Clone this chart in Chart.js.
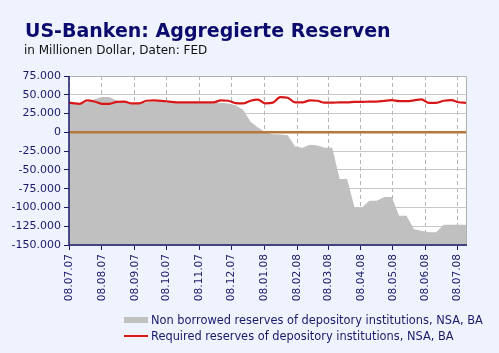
<!DOCTYPE html>
<html>
<head>
<meta charset="utf-8">
<script src="https://cdn.jsdelivr.net/npm/chart.js@4"></script>
<style>
  html, body { margin:0; padding:0; }
  body { width:499px; height:353px; background:#EEF3FD; position:relative; overflow:hidden; font-family:"DejaVu Sans", Verdana, sans-serif; }
  #c { position:absolute; left:0; top:0; }
  .title { position:absolute; left:25px; top:21px; font-size:19px; line-height:19px; font-weight:bold; color:#0B0B6E; white-space:nowrap; }
  .sub { position:absolute; left:24px; top:44px; font-size:12px; line-height:12px; color:#111; white-space:nowrap; }
  .lg { position:absolute; left:151px; font-size:11.4px; line-height:14px; color:#1A1A6A; white-space:nowrap; }
  .sw1 { position:absolute; left:124px; top:317px; width:24px; height:6px; background:#C0C0C0; }
  .sw2 { position:absolute; left:124px; top:335px; width:24px; height:2px; background:#D81818; }
</style>
</head>
<body>
<canvas id="c" width="499" height="353"></canvas>
<div class="title">US-Banken: Aggregierte Reserven</div>
<div class="sub">in Millionen Dollar, Daten: FED</div>
<div class="sw1"></div>
<div class="lg" style="top:313px">Non borrowed reserves of depository institutions, NSA, BA</div>
<div class="sw2"></div>
<div class="lg" style="top:329px">Required reserves of depository institutions, NSA, BA</div>
<script>
const tickLabels = ['08.07.07','08.08.07','08.09.07','08.10.07','08.11.07','08.12.07','08.01.08','08.02.08','08.03.08','08.04.08','08.05.08','08.06.08','08.07.08'];
const dates = ['2007-07-04','2007-07-11','2007-07-18','2007-07-25','2007-08-01','2007-08-08','2007-08-15','2007-08-22','2007-08-29',
 '2007-09-05','2007-09-12','2007-09-19','2007-09-26','2007-10-03','2007-10-10','2007-10-17','2007-10-24','2007-10-31',
 '2007-11-07','2007-11-14','2007-11-21','2007-11-28','2007-12-05','2007-12-12','2007-12-19','2007-12-26',
 '2008-01-02','2008-01-09','2008-01-16','2008-01-23','2008-01-30','2008-02-06','2008-02-13','2008-02-20','2008-02-27',
 '2008-03-05','2008-03-12','2008-03-19','2008-03-26','2008-04-02','2008-04-09','2008-04-16','2008-04-23','2008-04-30',
 '2008-05-07','2008-05-14','2008-05-21','2008-05-28','2008-06-04','2008-06-11','2008-06-18','2008-06-25',
 '2008-07-02','2008-07-09','2008-07-16'];
const nonBorrowed = [38000,
 38000,38000,40000,44000,47000,47000,42000,40000,39000,38500,
 40000,41000,40500,40000,39500,39500,39500,39500,39500,39500,
 39500,38500,36000,30000,14000,6500,0,-2500,-3000,-4000,
 -19000,-20500,-16500,-17500,-20500,-20500,-62000,-62000,-100000,-100000,
 -91000,-91000,-86000,-86000,-111000,-111000,-129000,-131000,-133000,-133000,
 -123000,-123000,-123000,-123000];
const required = [40000,
 39000,38000,42500,41000,38000,38000,40500,41000,38500,38500,
 42000,42500,42000,41000,40000,40000,40000,40000,40000,40000,
 42500,42000,39000,38500,42000,43500,38500,39500,47000,46000,
 40000,40000,42500,42000,39500,39500,40000,40000,40500,40500,
 41000,41000,42000,42800,41500,41500,42500,44000,39300,39300,
 42000,43000,40000,39300];
const seriesNames = ['Non borrowed reserves of depository institutions, NSA, BA','Required reserves of depository institutions, NSA, BA'];

const ORIGIN = Date.UTC(2007, 6, 8);
function dayOf(s){ const p = s.split('-').map(Number); return Math.round((Date.UTC(p[0], p[1]-1, p[2]) - ORIGIN)/86400000); }
const tickDays = tickLabels.map(l => { const [d,m,y] = l.split('.'); return dayOf('20'+y+'-'+m+'-'+d); });
const xs = dates.map(dayOf);

const navy = '#1A1A6A';
function fmt(v){ const s = Math.abs(v).toString().replace(/\B(?=(\d{3})+(?!\d))/g, '.'); return (v < 0 ? '-' : '') + s; }

const decor = {
  id: 'decor',
  beforeDraw(chart){
    const {ctx, chartArea:a} = chart;
    ctx.save(); ctx.fillStyle = '#FFFFFF';
    ctx.fillRect(a.left, a.top, a.right - a.left, a.bottom - a.top);
    ctx.restore();
  },
  afterDatasetsDraw(chart){
    const {ctx, chartArea:a, scales:{y}} = chart;
    const y0 = y.getPixelForValue(0);
    ctx.save();
    ctx.strokeStyle = '#B47A3C'; ctx.lineWidth = 2.5;
    ctx.beginPath(); ctx.moveTo(a.left, y0); ctx.lineTo(a.right, y0); ctx.stroke();
    ctx.strokeStyle = '#B0B0B0'; ctx.lineWidth = 1;
    ctx.beginPath(); ctx.moveTo(a.left, a.top + 0.5); ctx.lineTo(a.right + 0.5, a.top + 0.5); ctx.lineTo(a.right + 0.5, a.bottom); ctx.stroke();
    ctx.strokeStyle = navy; ctx.lineWidth = 1.5;
    ctx.beginPath(); ctx.moveTo(a.left, a.top); ctx.lineTo(a.left, a.bottom); ctx.lineTo(a.right + 1, a.bottom); ctx.stroke();
    ctx.restore();
  }
};

new Chart(document.getElementById('c'), {
  type: 'line',
  data: {
    datasets: [
      { label: seriesNames[1], data: xs.map((x,i)=>({x, y: required[i]})), borderColor:'#D81818', borderWidth:2.2,
        pointRadius:0, fill:false, cubicInterpolationMode:'monotone', order:0 },
      { label: seriesNames[0], data: xs.map((x,i)=>({x, y: nonBorrowed[i]})), borderColor:'#C0C0C0', borderWidth:0,
        backgroundColor:'#C0C0C0', pointRadius:0, fill:'start', tension:0, order:1 }
    ]
  },
  options: {
    responsive:false, animation:false, devicePixelRatio:1, events:[],
    layout: { padding: { left:0, right:33, top:76, bottom:0 } },
    plugins: { legend:{display:false}, tooltip:{enabled:false}, title:{display:false} },
    scales: {
      x: {
        type:'linear', min:0, max:dayOf(dates[dates.length-1]),
        afterBuildTicks(s){ s.ticks = tickDays.map(v => ({value:v})); },
        afterFit(s){ s.height = 108; },
        grid: { color:'#B4B4B4', lineWidth:1, tickColor:navy, tickLength:5, drawTicks:true },
        border: { display:false, dash:[4,3] },
        ticks: { autoSkip:false, maxRotation:90, minRotation:90, padding:4, color:navy,
                 font:{family:'DejaVu Sans', size:10.6},
                 callback(v, i){ return tickLabels[i]; } }
      },
      y: {
        min:-150000, max:75000,
        afterFit(s){ s.width = 69; },
        grid: { color:'#C8C8C8', lineWidth:1, tickColor:navy, tickLength:5 },
        border: { display:false },
        ticks: { stepSize:25000, padding:3, color:navy, font:{family:'DejaVu Sans', size:11},
                 callback(v){ return fmt(v); } }
      }
    }
  },
  plugins: [decor]
});
</script>
</body>
</html>
